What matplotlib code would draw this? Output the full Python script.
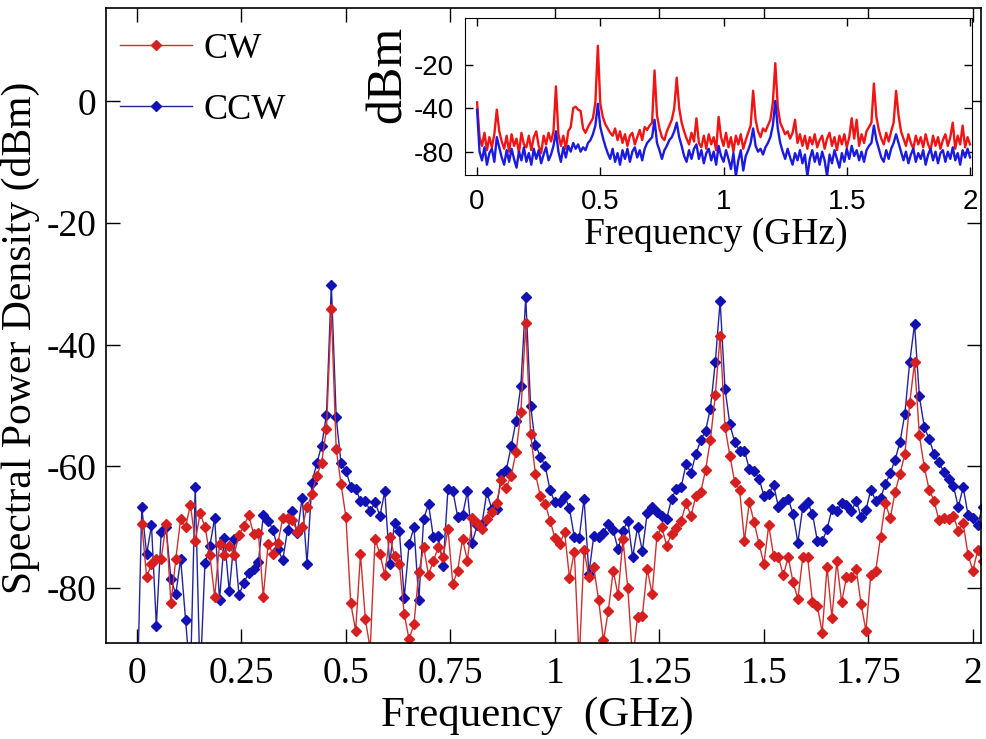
import matplotlib
matplotlib.use("Agg")

import matplotlib.pyplot as plt
import numpy as np

plt.rcParams['font.family'] = ['Liberation Serif', 'DejaVu Serif']

# ------------------------------------------------------------
# MAIN SPECTRUM (one sample every ~11.6 MHz, k = 0..174)
# ------------------------------------------------------------
df = 0.01163   # GHz per sample

ccw_dbm = [
    -100,
    -66.7, -74.4, -69.7, -86.2, -70.8, -70.0, -78.5, -81.0, -75.2, -85.2,
    -95.0, -63.3, -95.0, -75.9, -73.1, -68.5, -82.0, -71.8, -80.5, -72.0,
    -81.1, -79.1, -77.5, -76.8, -75.7, -68.0, -68.9, -70.4, -73.6, -75.4,
    -70.4, -67.4, -71.0, -65.1, -76.0, -62.7, -59.5, -56.6, -51.5, -30.1,
    -51.9, -59.5, -60.7, -63.3, -63.7, -65.6, -65.6, -67.4, -65.9, -68.1,
    -64.1, -76.0, -69.3, -70.6, -81.6, -72.8, -70.0, -82.0, -68.6, -66.2,
    -71.6, -71.5, -76.3, -63.7, -64.0, -68.3, -68.0, -64.1, -72.5, -69.7,
    -69.4, -64.2, -67.0, -67.0, -61.2, -60.6, -56.7, -52.6, -46.7, -32.2,
    -50.0, -56.4, -58.4, -59.9, -63.9, -65.9, -65.9, -64.8, -66.9, -71.6,
    -71.7, -65.3, -77.6, -71.4, -71.6, -70.9, -69.4, -70.5, -73.6, -70.6,
    -68.9, -74.9, -70.0, -73.9, -67.6, -66.6, -67.5, -68.1, -68.6, -65.3,
    -63.7, -63.3, -59.6, -61.0, -58.0, -55.7, -54.1, -50.5, -42.9, -32.8,
    -47.2, -53.1, -56.0, -57.4, -57.4, -60.4, -60.7, -62.0, -64.8, -64.5,
    -63.0, -66.7, -65.9, -65.3, -67.8, -72.5, -66.7, -65.9, -67.8, -72.2,
    -72.3, -70.3, -67.0, -67.4, -66.0, -66.3, -67.4, -65.6, -68.3, -67.2,
    -63.8, -65.6, -65.2, -62.9, -61.1, -58.9, -56.0, -51.4, -42.9, -36.6,
    -48.5, -53.5, -55.5, -57.9, -59.3, -60.9, -62.0, -63.2, -66.7, -63.4,
    -67.9, -68.5, -69.6, -66.6,
]

cw_dbm = [
    np.nan,
    -69.4, -78.2, -76.0, -75.2, -75.2, -69.4, -82.5, -75.2, -68.6, -70.0,
    -66.3, -72.3, -67.7, -69.9, -74.5, -81.4, -72.8, -74.5, -73.0, -74.5,
    -71.2, -69.8, -68.0, -71.1, -71.0, -81.4, -72.7, -74.4, -72.6, -68.5,
    -68.4, -68.8, -70.8, -70.0, -66.7, -64.5, -61.5, -59.4, -53.8, -34.2,
    -57.1, -62.9, -68.3, -82.5, -87.0, -74.4, -85.1, -90.0, -71.9, -74.4,
    -77.8, -71.6, -74.7, -76.0, -84.3, -88.4, -85.9, -77.4, -73.3, -77.8,
    -75.5, -73.3, -74.9, -70.3, -79.3, -77.1, -71.9, -75.5, -68.5, -69.3,
    -70.3, -68.6, -67.5, -66.0, -62.3, -63.5, -61.5, -57.7, -51.1, -36.5,
    -54.7, -61.2, -64.8, -66.1, -68.9, -71.7, -72.7, -70.8, -78.3, -74.0,
    -92.0, -73.8, -78.2, -76.6, -82.0, -88.6, -83.7, -77.1, -81.2, -71.9,
    -80.0, -92.0, -84.7, -84.5, -76.8, -81.0, -71.4, -70.0, -73.0, -71.1,
    -70.1, -68.9, -66.0, -68.1, -64.9, -64.2, -60.6, -55.6, -48.3, -38.5,
    -53.5, -58.2, -62.6, -63.8, -72.2, -65.9, -69.2, -72.7, -76.0, -69.7,
    -74.7, -74.9, -77.9, -74.9, -79.0, -81.8, -74.9, -74.9, -82.3, -82.9,
    -87.3, -76.5, -84.9, -75.6, -82.3, -78.2, -78.1, -76.9, -82.6, -87.0,
    -77.8, -77.2, -71.6, -66.0, -68.5, -64.2, -61.2, -58.0, -49.6, -42.9,
    -54.9, -60.1, -63.8, -65.6, -68.8, -68.5, -68.6, -68.1, -70.6, -69.3,
    -74.5, -77.1, -73.8, -75.5,
]

xticks = [0, 0.25, 0.5, 0.75, 1, 1.25, 1.5, 1.75, 2]
xtick_labels = ['0', '0.25', '0.5', '0.75', '1', '1.25', '1.5', '1.75', '2']
yticks = [0, -20, -40, -60, -80]
ytick_labels = ['0', '-20', '-40', '-60', '-80']

# ------------------------------------------------------------
# INSET: WIDE-BAND SPECTRUM (10 MHz steps, 0..2 GHz)
# ------------------------------------------------------------
inset_step = 0.01

inset_cw = [
    -46, -70, -76, -67, -79, -70, -77, -68, -51, -66,
    -73, -78, -69, -80, -68, -76, -71, -81, -67, -75,
    -77, -69, -79, -70, -66, -76, -81, -69, -75, -67,
    -73, -66, -35, -68, -76, -69, -78, -66, -63, -50,
    -49, -51, -52, -64, -67, -63, -60, -57, -46, -7,
    -47, -56, -61, -64, -67, -69, -64, -72, -66, -74,
    -68, -76, -69, -67, -75, -70, -65, -72, -63, -65,
    -62, -60, -24, -55, -64, -70, -72, -66, -62, -58,
    -50, -29, -50, -60, -66, -71, -75, -67, -73, -57,
    -74, -77, -69, -78, -68, -75, -70, -79, -56, -70,
    -76, -67, -77, -70, -80, -69, -75, -68, -78, -72,
    -67, -62, -38, -58, -66, -70, -64, -66, -62, -58,
    -46, -19, -49, -60, -64, -68, -66, -71, -67, -58,
    -74, -68, -76, -69, -78, -70, -75, -68, -77, -72,
    -69, -78, -71, -67, -76, -70, -79, -69, -75, -68,
    -77, -70, -57, -71, -58, -76, -68, -74, -66, -63,
    -60, -33, -56, -65, -71, -75, -67, -73, -66, -60,
    -38, -55, -66, -71, -76, -68, -74, -78, -69, -75,
    -70, -77, -68, -75, -79, -69, -76, -70, -78, -72,
    -68, -76, -70, -60, -78, -69, -75, -62, -77, -70,
    -75,
]

inset_ccw = [
    -51, -80, -86, -77, -89, -81, -78, -87, -70, -77,
    -84, -89, -79, -87, -78, -85, -91, -80, -86, -77,
    -87, -81, -89, -78, -85, -79, -88, -82, -77, -86,
    -82, -76, -66, -80, -87, -77, -84, -76, -80, -74,
    -78, -75, -80, -77, -79, -74, -72, -68, -62, -47,
    -63, -70, -76, -81, -85, -78, -87, -81, -89, -79,
    -85, -78, -87, -80, -77, -84, -79, -86, -78, -74,
    -72, -70, -58, -74, -79, -85, -79, -76, -72, -70,
    -66, -60, -70, -76, -83, -87, -79, -85, -78, -75,
    -85, -79, -88, -81, -78, -86, -80, -89, -76, -83,
    -87, -79, -85, -92, -81, -97, -86, -79, -93, -83,
    -79, -74, -64, -76, -80, -78, -82, -77, -74, -70,
    -62, -45, -64, -74, -80, -85, -78, -84, -89, -81,
    -86, -79, -88, -82, -97, -85, -79, -87, -81, -89,
    -80, -86, -97, -82, -88, -79, -85, -91, -81, -87,
    -78, -85, -76, -83, -79, -86, -80, -87, -79, -76,
    -74, -62, -72, -78, -84, -87, -79, -85, -78, -74,
    -68, -74, -80, -86, -80, -88, -82, -78, -87, -81,
    -85, -79, -89, -82, -78, -86, -80, -88, -81, -79,
    -87, -80, -85, -77, -86, -81, -89, -79, -84, -78,
    -84,
]

inset_xticks = [0, 0.5, 1, 1.5, 2]
inset_xtick_labels = ['0', '0.5', '1', '1.5', '2']
inset_yticks = [-20, -50, -80]
inset_ytick_labels = ['-20', '-40', '-80']

# ------------------------------------------------------------
# FIGURE
# ------------------------------------------------------------
RED_LINE, RED_MARK = '#cc3030', '#d62020'
BLUE_LINE, BLUE_MARK = '#23239a', '#1212b4'

fig = plt.figure(figsize=(9.86, 7.39), dpi=100)
ax = fig.add_axes([0.1075, 0.130, 0.8875, 0.8588])

freq = np.arange(len(ccw_dbm)) * df

h_ccw, = ax.plot(freq, ccw_dbm, color=BLUE_LINE, lw=1.0, marker='D', ms=4.8,
                 mfc=BLUE_MARK, mec=BLUE_MARK, label='CCW')
h_cw, = ax.plot(freq, cw_dbm, color=RED_LINE, lw=1.0, marker='D', ms=4.8,
                mfc=RED_MARK, mec=RED_MARK, label='CW')

ax.set_xlim(-0.074, 2.02)
ax.set_ylim(-89, 15.3)
ax.set_xticks(xticks)
ax.set_xticklabels(xtick_labels)
ax.set_yticks(yticks)
ax.set_yticklabels(ytick_labels)
ax.tick_params(direction='in', length=10, width=1, top=True, right=True,
               labelsize=27)
ax.tick_params(axis='x', pad=10)
ax.tick_params(axis='y', pad=7)
for s in ax.spines.values():
    s.set_linewidth(1.2)

ax.set_xlabel('Frequency  (GHz)', fontsize=31)
ax.xaxis.set_label_coords(0.493, -0.085)
ax.set_ylabel('Spectral Power Density (dBm)', fontsize=30)
ax.yaxis.set_label_coords(-0.075, 0.48)

ax.legend([h_cw, h_ccw], ['CW', 'CCW'], loc='upper left',
          bbox_to_anchor=(0.016, 0.962), frameon=False, fontsize=26,
          handlelength=2.0, handletextpad=0.3, labelspacing=0.78,
          borderpad=0, borderaxespad=0, numpoints=1)

# ------------------------------------------------------------
# INSET
# ------------------------------------------------------------
ax_in = fig.add_axes([0.4716, 0.7628, 0.5142, 0.2125])
ifreq = np.arange(len(inset_cw)) * inset_step
ax_in.plot(ifreq, inset_cw, color='#f01414', lw=1.7)
ax_in.plot(ifreq, inset_ccw, color='#1a1ae0', lw=1.7)

ax_in.set_xlim(-0.049, 2.008)
ax_in.set_ylim(-96.3, 12)
ax_in.set_xticks(inset_xticks)
ax_in.set_xticklabels(inset_xtick_labels)
ax_in.set_yticks(inset_yticks)
ax_in.set_yticklabels(inset_ytick_labels)
ax_in.tick_params(direction='in', length=6, width=1, top=True, right=True,
                  labelsize=20)
ax_in.tick_params(axis='x', pad=10)
ax_in.tick_params(axis='y', pad=8)
for lab in ax_in.get_xticklabels() + ax_in.get_yticklabels():
    lab.set_fontfamily('Liberation Sans')

ax_in.set_xlabel('Frequency (GHz)', fontsize=27)
ax_in.xaxis.set_label_coords(0.495, -0.27)
ax_in.set_ylabel('dBm', fontsize=36)
ax_in.yaxis.set_label_coords(-0.105, 0.64)

fig.savefig('out.png', dpi=100)
